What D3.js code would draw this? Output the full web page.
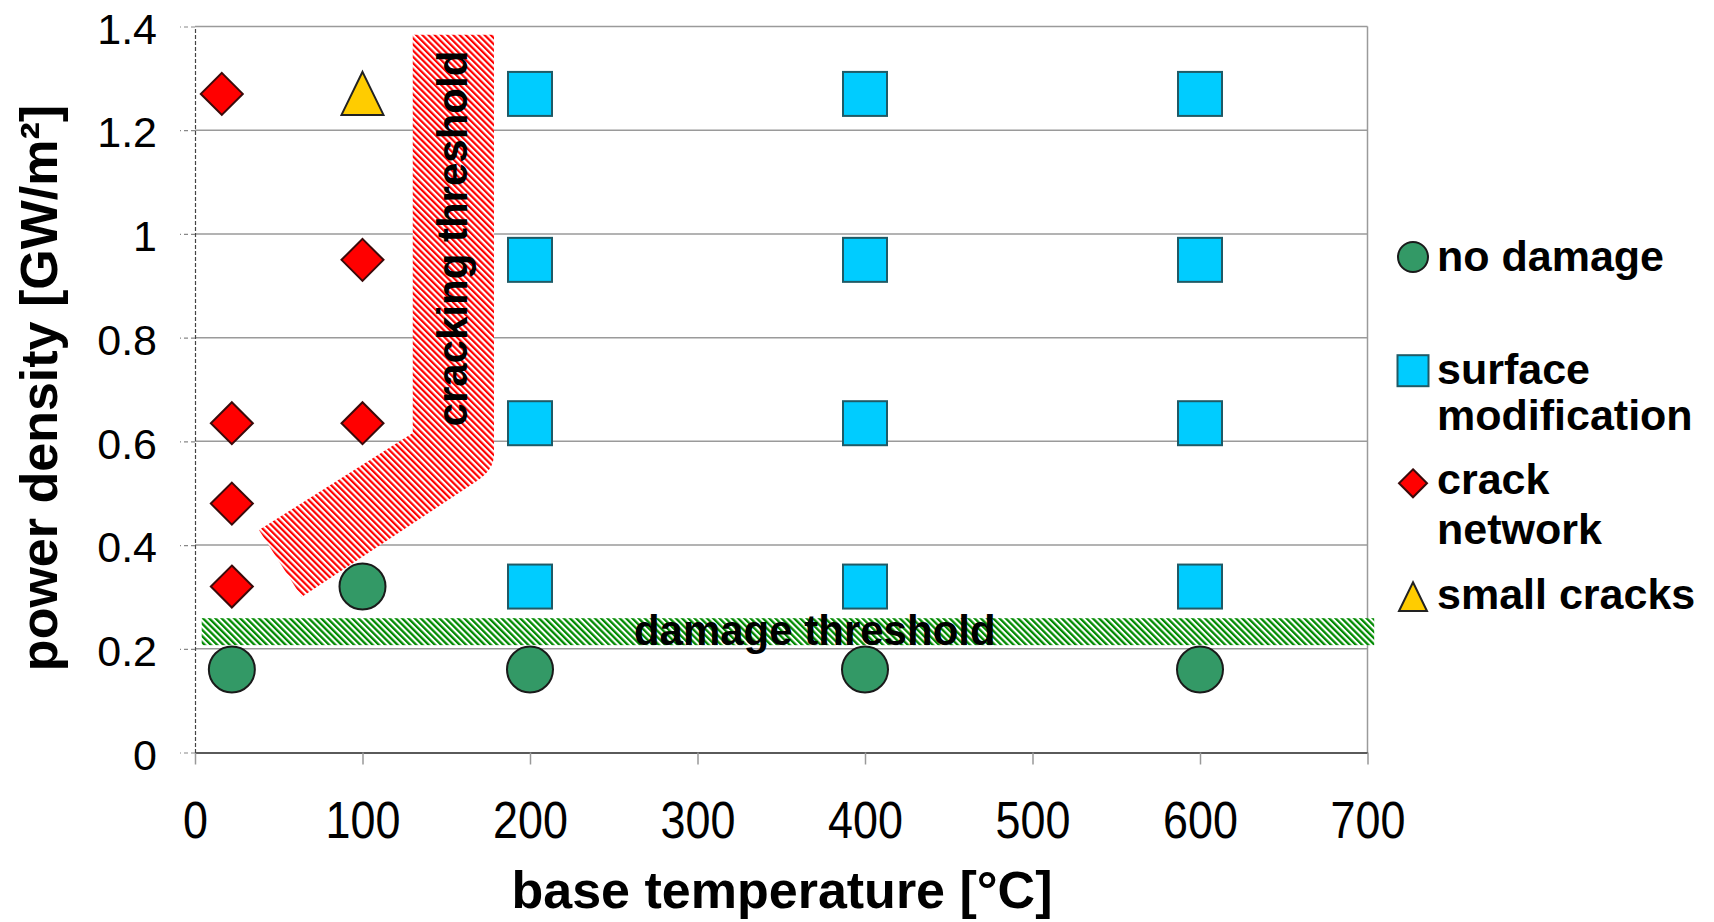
<!DOCTYPE html>
<html>
<head>
<meta charset="utf-8">
<script src="https://cdn.jsdelivr.net/npm/d3@7"></script>
<style>
  html, body { margin: 0; padding: 0; background: #fff; }
  svg { display: block; }
  text { font-family: "Liberation Sans", Arial, Helvetica, sans-serif; fill: #000; }
</style>
</head>
<body>
<svg id="chart" width="1714" height="922"></svg>
<script>
// ---- data -------------------------------------------------------------
const xTicks = [0, 100, 200, 300, 400, 500, 600, 700];
const yTicks = [0, 0.2, 0.4, 0.6, 0.8, 1, 1.2, 1.4];

// no damage
const noDamageT = [22, 100, 200, 400, 600];
const noDamageP = [0.16, 0.32, 0.16, 0.16, 0.16];

// surface modification
const surfaceT = [200, 200, 200, 200, 400, 400, 400, 400, 600, 600, 600, 600];
const surfaceP = [0.32, 0.635, 0.95, 1.27, 0.32, 0.635, 0.95, 1.27, 0.32, 0.635, 0.95, 1.27];

// crack network
const crackT = [16, 100, 22, 100, 22, 22];
const crackP = [1.27, 0.95, 0.635, 0.635, 0.48, 0.32];

// small cracks
const smallT = [100];
const smallP = [1.27];

// threshold bands (temperature, power density)
const damageBandT = [4, 704];
const damageBandP = [0.207, 0.259];
const damageLabel = { t: 370, p: 0.207, text: "damage threshold" };

const crackBandOuter = [[130.0, 1.384], [178.5, 1.384], [178.5, 0.574]];
const crackBandCorner = [178.5, 0.545];
const crackBandRest = [[168.1, 0.523], [63.7, 0.300], [38.2, 0.429], [130.0, 0.616]];
const crackLabel = { t: 162.5, p: 0.991, text: "cracking threshold" };

const legendItems = [
  { shape: "circle", lines: ["no damage"] },
  { shape: "square", lines: ["surface", "modification"] },
  { shape: "diamond", lines: ["crack", "network"] },
  { shape: "triangle", lines: ["small cracks"] }
];

// ---- styles -----------------------------------------------------------
const colors = {
  circle: "#339966",
  square: "#00CCFF",
  diamond: "#FF0000",
  triangle: "#FFCC00"
};
const strokes = {
  circle: "#1a1a1a",
  square: "#205a66",
  diamond: "#3a0a0a",
  triangle: "#222"
};

// ---- layout -----------------------------------------------------------
const svg = d3.select("#chart");
const x = d3.scaleLinear().domain([0, 700]).range([195, 1367.5]);
const y = d3.scaleLinear().domain([0, 1.4]).range([752.5, 26.5]);

// hatch patterns
const defs = svg.append("defs");
function hatch(id, color, size, lineW) {
  const p = defs.append("pattern")
    .attr("id", id)
    .attr("patternUnits", "userSpaceOnUse")
    .attr("width", size).attr("height", size)
    .attr("patternTransform", "rotate(-45)");
  p.append("rect").attr("width", size).attr("height", size).attr("fill", "#fff");
  p.append("rect").attr("width", lineW).attr("height", size).attr("fill", color);
}
hatch("hatchRed", "#ff0000", 4.4, 2.2);
hatch("hatchGreen", "#008a00", 4.4, 2.3);

// gridlines (0.2 .. 1.4) and right border
const grid = svg.append("g");
grid.selectAll("line.h")
  .data(yTicks.filter(d => d > 0))
  .join("line")
  .attr("x1", x(0)).attr("x2", x(700))
  .attr("y1", d => y(d)).attr("y2", d => y(d))
  .attr("stroke", "#9a9a9a").attr("stroke-width", 1.5);
grid.append("line")
  .attr("x1", x(700)).attr("x2", x(700))
  .attr("y1", y(0)).attr("y2", y(1.4))
  .attr("stroke", "#9a9a9a").attr("stroke-width", 1.5);

// x axis
const xAxis = svg.append("g")
  .attr("transform", `translate(0,${y(0)})`)
  .call(d3.axisBottom(x).tickValues(xTicks).tickSize(12).tickSizeOuter(0));
xAxis.select(".domain").attr("stroke", "#5a5a5a").attr("stroke-width", 2);
xAxis.selectAll(".tick line").attr("stroke", "#999").attr("stroke-width", 1.5);
xAxis.selectAll(".tick text")
  .attr("y", 86).attr("dy", 0)
  .attr("transform", "scale(0.88,1)")
  .style("font-size", "51px");

// y axis
const yAxis = svg.append("g")
  .attr("transform", `translate(${x(0)},0)`)
  .call(d3.axisLeft(y).tickValues(yTicks).tickSize(15).tickPadding(23).tickSizeOuter(0)
    .tickFormat(d => d3.format("")(d)));
yAxis.select(".domain").attr("stroke", "#444").attr("stroke-width", 1.2)
  .attr("stroke-dasharray", "4,2");
yAxis.selectAll(".tick line").attr("stroke", "#888").attr("stroke-width", 1.2)
  .attr("stroke-dasharray", "4,3");
yAxis.selectAll(".tick text").attr("dy", "0.39em").style("font-size", "43px");

// axis titles
svg.append("text")
  .attr("x", 782).attr("y", 908)
  .attr("text-anchor", "middle")
  .style("font-size", "52px").style("font-weight", "bold")
  .text("base temperature [°C]");
svg.append("text")
  .attr("transform", "translate(57,388) rotate(-90)")
  .attr("text-anchor", "middle")
  .style("font-size", "52px").style("font-weight", "bold")
  .text("power density [GW/m²]");

// damage threshold band
svg.append("rect")
  .attr("x", x(damageBandT[0]))
  .attr("y", y(damageBandP[1]))
  .attr("width", x(damageBandT[1]) - x(damageBandT[0]))
  .attr("height", y(damageBandP[0]) - y(damageBandP[1]))
  .attr("fill", "url(#hatchGreen)");

// cracking threshold band
const pt = d => `${x(d[0])},${y(d[1])}`;
const crackPath = "M" + crackBandOuter.map(pt).join("L")
  + "Q" + pt(crackBandCorner) + " " + pt(crackBandRest[0])
  + "L" + crackBandRest.slice(1).map(pt).join("L") + "Z";
svg.append("path").attr("d", crackPath).attr("fill", "url(#hatchRed)");

// marker shapes
function drawShape(g, shape, cx, cy, s) {
  // s = half size
  if (shape === "circle") {
    g.append("circle").attr("cx", cx).attr("cy", cy).attr("r", s);
  } else if (shape === "square") {
    g.append("rect").attr("x", cx - s).attr("y", cy - s).attr("width", 2 * s).attr("height", 2 * s);
  } else if (shape === "diamond") {
    g.append("path").attr("d", `M${cx},${cy - s}L${cx + s},${cy}L${cx},${cy + s}L${cx - s},${cy}Z`);
  } else {
    g.append("path").attr("d", `M${cx},${cy - s * 1.05}L${cx + s},${cy + s}L${cx - s},${cy + s}Z`);
  }
}
function series(ts, ps, shape, s) {
  const g = svg.append("g")
    .attr("fill", colors[shape]).attr("stroke", strokes[shape]).attr("stroke-width", 2);
  ts.forEach((t, i) => drawShape(g, shape, x(t), y(ps[i]), s));
}
series(noDamageT, noDamageP, "circle", 23);
series(surfaceT, surfaceP, "square", 22);
series(crackT, crackP, "diamond", 21);
series(smallT, smallP, "triangle", 21);

// band labels
svg.append("text")
  .attr("x", x(damageLabel.t)).attr("y", y(damageLabel.p))
  .attr("text-anchor", "middle")
  .style("font-size", "42px").style("font-weight", "bold")
  .text(damageLabel.text);
svg.append("text")
  .attr("transform", `translate(${x(crackLabel.t)},${y(crackLabel.p)}) rotate(-90)`)
  .attr("text-anchor", "middle")
  .style("font-size", "42px").style("font-weight", "bold")
  .text(crackLabel.text);

// legend
const legendRowY = [257, 370.7, 483.3, 597];
const legendSizes = { circle: 15, square: 15.5, diamond: 14, triangle: 14 };
const legendBaseline = [[270.7], [384.4, 430], [493.6, 543.6], [608.7]];
legendItems.forEach((it, i) => {
  const g = svg.append("g")
    .attr("fill", colors[it.shape]).attr("stroke", strokes[it.shape]).attr("stroke-width", 2);
  drawShape(g, it.shape, 1413, legendRowY[i], legendSizes[it.shape]);
  it.lines.forEach((ln, j) => {
    svg.append("text")
      .attr("x", 1437).attr("y", legendBaseline[i][j])
      .style("font-size", "43px").style("font-weight", "bold")
      .text(ln);
  });
});
</script>
</body>
</html>
